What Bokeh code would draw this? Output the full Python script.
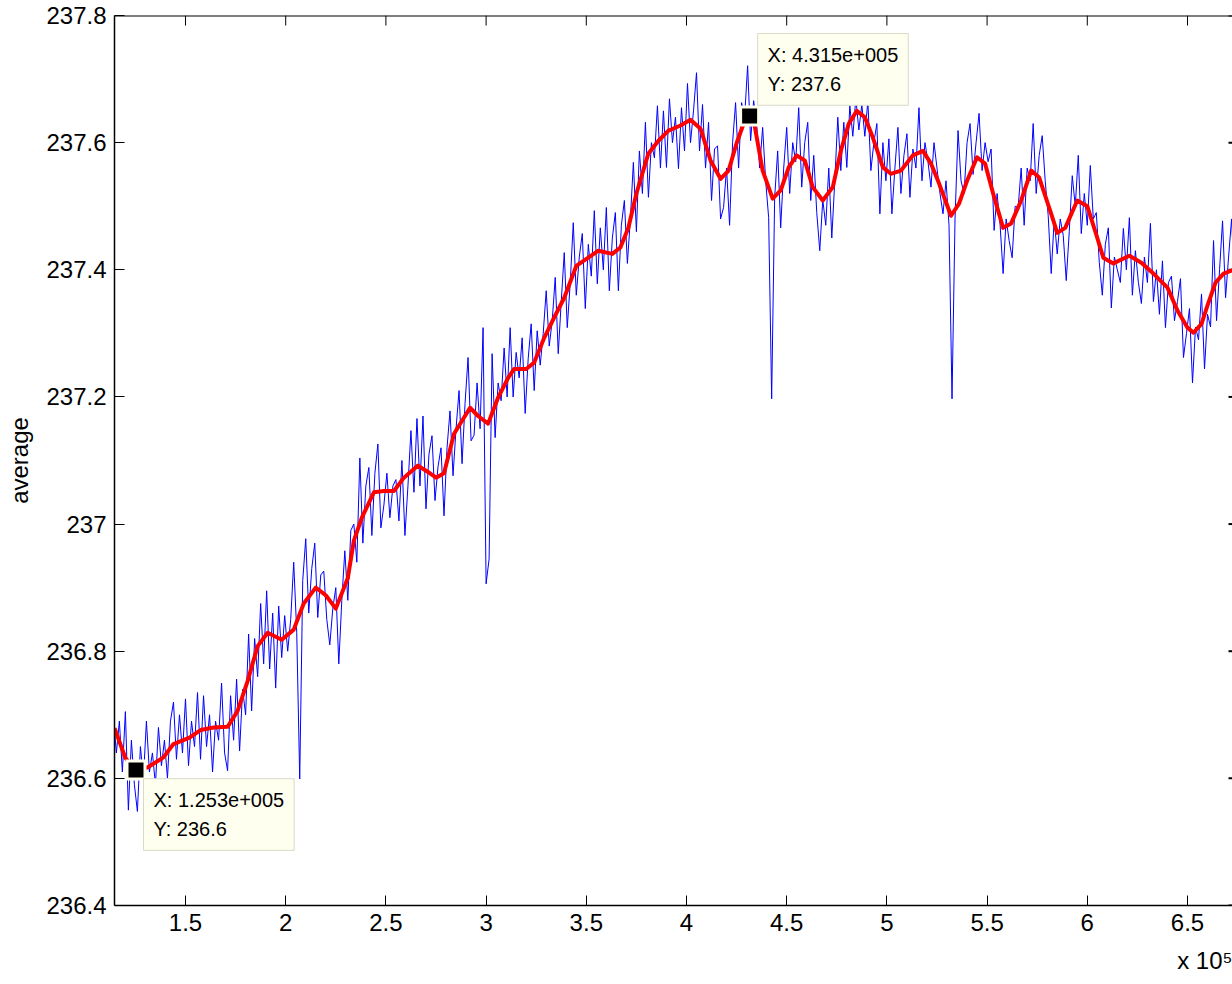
from bokeh.plotting import figure
from bokeh.models import (Range1d, FixedTicker, LinearAxis, CustomJSTickFormatter, Label, Span, Title)
from bokeh.embed import file_html
from bokeh.resources import INLINE

# ---------------- data ----------------
# raw series: uniformly sampled, start and step in x units
blue_x_start = 114000
blue_x_step = 1500
blue_y = [
    236.700, 236.640, 236.690, 236.610, 236.705, 236.550, 236.660, 236.590, 236.548, 236.650,
    236.600, 236.690, 236.610, 236.640, 236.590, 236.680, 236.620, 236.660, 236.600, 236.690,
    236.720, 236.630, 236.700, 236.640, 236.725, 236.620, 236.690, 236.650, 236.735, 236.630,
    236.730, 236.650, 236.700, 236.610, 236.690, 236.660, 236.750, 236.640, 236.612, 236.730,
    236.660, 236.756, 236.643, 236.740, 236.700, 236.827, 236.706, 236.820, 236.760, 236.875,
    236.780, 236.895, 236.772, 236.860, 236.742, 236.871, 236.790, 236.856, 236.800, 236.850,
    236.940, 236.830, 236.599, 236.911, 236.977, 236.860, 236.930, 236.970, 236.853, 236.920,
    236.926, 236.850, 236.810, 236.867, 236.900, 236.780, 236.880, 236.958, 236.880, 236.990,
    237.000, 236.940, 237.104, 236.970, 237.060, 237.089, 236.982, 237.080, 237.126, 236.994,
    237.030, 237.080, 237.010, 237.060, 237.070, 237.005, 237.100, 236.982, 237.060, 237.147,
    237.050, 237.166, 237.060, 237.170, 237.024, 237.110, 237.139, 237.037, 237.090, 237.120,
    237.013, 237.120, 237.178, 237.076, 237.150, 237.210, 237.095, 237.190, 237.262, 237.131,
    237.140, 237.222, 237.150, 237.309, 236.906, 236.945, 237.268, 237.136, 237.222, 237.194,
    237.277, 237.200, 237.309, 237.200, 237.270, 237.230, 237.293, 237.174, 237.260, 237.315,
    237.210, 237.304, 237.250, 237.300, 237.367, 237.280, 237.320, 237.388, 237.268, 237.350,
    237.427, 237.309, 237.380, 237.474, 237.360, 237.420, 237.457, 237.339, 237.440, 237.390,
    237.493, 237.378, 237.466, 237.400, 237.498, 237.367, 237.450, 237.490, 237.367, 237.470,
    237.509, 237.410, 237.480, 237.569, 237.460, 237.587, 237.520, 237.632, 237.514, 237.600,
    237.576, 237.658, 237.560, 237.650, 237.561, 237.669, 237.600, 237.640, 237.559, 237.655,
    237.587, 237.693, 237.600, 237.650, 237.710, 237.587, 237.660, 237.560, 237.632, 237.509,
    237.590, 237.595, 237.480, 237.498, 237.560, 237.470, 237.600, 237.663, 237.560, 237.663,
    237.640, 237.721, 237.603, 237.666, 237.630, 237.560, 237.624, 237.540, 237.482, 237.197,
    237.514, 237.587, 237.466, 237.560, 237.624, 237.520, 237.600, 237.570, 237.655, 237.530,
    237.600, 237.632, 237.509, 237.580, 237.490, 237.430, 237.510, 237.470, 237.560, 237.450,
    237.540, 237.640, 237.556, 237.632, 237.561, 237.658, 237.610, 237.670, 237.620, 237.660,
    237.610, 237.666, 237.556, 237.600, 237.630, 237.488, 237.600, 237.540, 237.606, 237.488,
    237.560, 237.624, 237.520, 237.580, 237.614, 237.514, 237.590, 237.560, 237.655, 237.540,
    237.600, 237.570, 237.530, 237.600, 237.560, 237.520, 237.488, 237.540, 237.470, 237.197,
    237.480, 237.619, 237.540, 237.520, 237.600, 237.630, 237.550, 237.600, 237.646, 237.556,
    237.600, 237.570, 237.590, 237.462, 237.520, 237.470, 237.394, 237.480, 237.446, 237.419,
    237.500, 237.498, 237.560, 237.470, 237.560, 237.540, 237.630, 237.520, 237.580, 237.611,
    237.540, 237.485, 237.394, 237.480, 237.425, 237.480, 237.454, 237.383, 237.460, 237.548,
    237.500, 237.580, 237.457, 237.520, 237.470, 237.564, 237.480, 237.490, 237.411, 237.360,
    237.440, 237.466, 237.340, 237.420, 237.400, 237.380, 237.465, 237.400, 237.482, 237.360,
    237.430, 237.380, 237.347, 237.420, 237.380, 237.473, 237.350, 237.400, 237.330, 237.414,
    237.309, 237.380, 237.390, 237.320, 237.350, 237.386, 237.262, 237.300, 237.339, 237.222,
    237.310, 237.290, 237.362, 237.244, 237.330, 237.310, 237.446, 237.320, 237.400, 237.477,
    237.356, 237.420, 237.480, 237.380,
]
blue_x = [blue_x_start + blue_x_step * i for i in range(len(blue_y))]

# smoothed series
red_x = [
    114600, 120000, 125000, 131000, 139000, 144000, 152000, 157500, 164000, 171000,
    176000, 181000, 186000, 191000, 198000, 204000, 209000, 215000, 220000, 225000,
    231000, 234000, 238000, 244000, 249000, 254000, 259000, 266000, 271000, 275000,
    279000, 284000, 292000, 296000, 301000, 306000, 311000, 314000, 320000, 324000,
    329000, 334000, 339000, 345000, 351000, 356000, 363000, 367000, 371000, 375000,
    381000, 386000, 391000, 397000, 402000, 407000, 412000, 417000, 421000, 425000,
    430000, 434000, 438000, 443000, 447000, 451000, 455000, 459000, 463000, 468000,
    473000, 477000, 481000, 485000, 489000, 493000, 498000, 502000, 507000, 513000,
    518000, 522000, 526000, 532000, 536000, 540000, 545000, 549000, 553000, 558000,
    562000, 567000, 572000, 576000, 582000, 585000, 589000, 595000, 600000, 605000,
    608000, 613000, 621000, 627000, 633000, 640000, 645000, 650000, 653000, 657000,
    660000, 664000, 668000, 673000,
]
red_y = [
    236.679, 236.632, 236.614, 236.617, 236.633, 236.654, 236.664, 236.676, 236.680, 236.681,
    236.706, 236.753, 236.808, 236.829, 236.818, 236.834, 236.875, 236.900, 236.888, 236.867,
    236.915, 236.974, 237.010, 237.050, 237.052, 237.052, 237.073, 237.092, 237.082, 237.073,
    237.080, 237.142, 237.183, 237.170, 237.158, 237.199, 237.230, 237.244, 237.244, 237.254,
    237.293, 237.325, 237.356, 237.406, 237.419, 237.430, 237.425, 237.435, 237.466, 237.520,
    237.583, 237.603, 237.619, 237.627, 237.636, 237.622, 237.572, 237.543, 237.556, 237.599,
    237.643, 237.627, 237.556, 237.512, 237.525, 237.561, 237.580, 237.572, 237.530, 237.509,
    237.530, 237.587, 237.630, 237.650, 237.640, 237.608, 237.561, 237.551, 237.556, 237.580,
    237.587, 237.567, 237.536, 237.485, 237.504, 237.540, 237.577, 237.567, 237.520, 237.466,
    237.473, 237.509, 237.556, 237.545, 237.488, 237.458, 237.466, 237.509, 237.500, 237.450,
    237.419, 237.410, 237.422, 237.411, 237.394, 237.372, 237.336, 237.309, 237.301, 237.315,
    237.344, 237.380, 237.394, 237.400,
]

# data tips
tip_x = [125300, 431500]
tip_y = [236.613, 237.642]
tip_text = ["X: 1.253e+005\nY: 236.6", "X: 4.315e+005\nY: 237.6"]

x_ticks = [150000, 200000, 250000, 300000, 350000, 400000, 450000, 500000, 550000, 600000, 650000]
y_ticks = [236.4, 236.6, 236.8, 237.0, 237.2, 237.4, 237.6, 237.8]
x_exponent_text = "x 10\u2075"

FONT = "Liberation Sans"

X0, X1 = 114571, 672460
Y0, Y1 = 236.4, 237.8
FRAME_W, FRAME_H = 1118, 890

# ---------------- figure ----------------
p = figure(width=1232, height=984, output_backend="svg", toolbar_location=None,
           x_range=Range1d(X0, X1), y_range=Range1d(Y0, Y1),
           min_border_left=114, min_border_right=0, min_border_top=15, min_border_bottom=79,
           x_axis_type=None, y_axis_type=None)
p.outline_line_color = None
p.background_fill_color = "white"
p.border_fill_color = "white"

xfmt = CustomJSTickFormatter(code="return parseFloat((tick/1e5).toFixed(1)).toString();")
yfmt = CustomJSTickFormatter(code="return parseFloat(tick.toFixed(1)).toString();")

xaxis = LinearAxis(ticker=FixedTicker(ticks=x_ticks), formatter=xfmt)
yaxis = LinearAxis(ticker=FixedTicker(ticks=y_ticks), formatter=yfmt, axis_label="average")

for ax in (xaxis, yaxis):
    ax.major_tick_in = 10
    ax.major_tick_out = 0
    ax.minor_tick_in = 0
    ax.minor_tick_out = 0
    ax.axis_line_color = "black"
    ax.axis_line_width = 1.5
    ax.major_tick_line_color = "black"
    ax.major_tick_line_width = 1
    ax.major_label_text_font = FONT
    ax.major_label_text_font_size = "24px"
    ax.major_label_text_color = "black"
    ax.major_label_standoff = 8

yaxis.axis_label_text_font = FONT
yaxis.axis_label_text_font_size = "24px"
yaxis.axis_label_text_font_style = "normal"
yaxis.axis_label_text_color = "black"
yaxis.axis_label_standoff = 10

p.add_layout(xaxis, "below")
p.add_layout(yaxis, "left")

# exponent of the x axis, at the bottom-right corner
p.add_layout(Title(text=x_exponent_text, align="right", text_font=FONT, text_font_size="24px",
                   text_font_style="normal", text_color="black", standoff=22), "below")

p.xgrid.ticker = FixedTicker(ticks=x_ticks)
p.ygrid.ticker = FixedTicker(ticks=y_ticks)
for g in (p.xgrid, p.ygrid):
    g.grid_line_color = "#8a8a8a"
    g.grid_line_width = 1

# top border of the box, with its inward ticks, and the right-hand ticks
p.add_layout(Span(location=Y1, dimension="width", line_color="black", line_width=2))
ty_len = 10 * (Y1 - Y0) / FRAME_H
p.segment(x0=x_ticks, y0=[Y1] * len(x_ticks), x1=x_ticks, y1=[Y1 - ty_len] * len(x_ticks),
          line_color="black", line_width=1)
rx_len = 4 * (X1 - X0) / FRAME_W
p.segment(x0=[X1 - rx_len] * len(y_ticks), y0=y_ticks, x1=[X1] * len(y_ticks), y1=y_ticks,
          line_color="black", line_width=2)

# ---------------- series ----------------
p.line(blue_x, blue_y, line_color="#0000FF", line_width=1)
p.line(red_x, red_y, line_color="#FF0000", line_width=4, line_join="round")

# data tip markers
p.scatter(tip_x, tip_y, marker="square", size=21, fill_color="#FFFFEF", line_color=None)
p.scatter(tip_x, tip_y, marker="square", size=15, fill_color="black", line_color=None)

# data tip boxes
tip_offsets = [(7.5, -8.6), (8.0, 82.4)]
for tx, ty, tt, (ox, oy) in zip(tip_x, tip_y, tip_text, tip_offsets):
    p.add_layout(Label(x=tx, y=ty, x_offset=ox, y_offset=oy, text=tt, anchor="top_left",
                       text_font=FONT, text_font_size="20px", text_color="black",
                       text_line_height=1.35, padding=10,
                       background_fill_color="#FFFFEF", border_line_color="#D9D9C8",
                       border_line_width=1))

open("out.html", "w").write(file_html(p, INLINE))
